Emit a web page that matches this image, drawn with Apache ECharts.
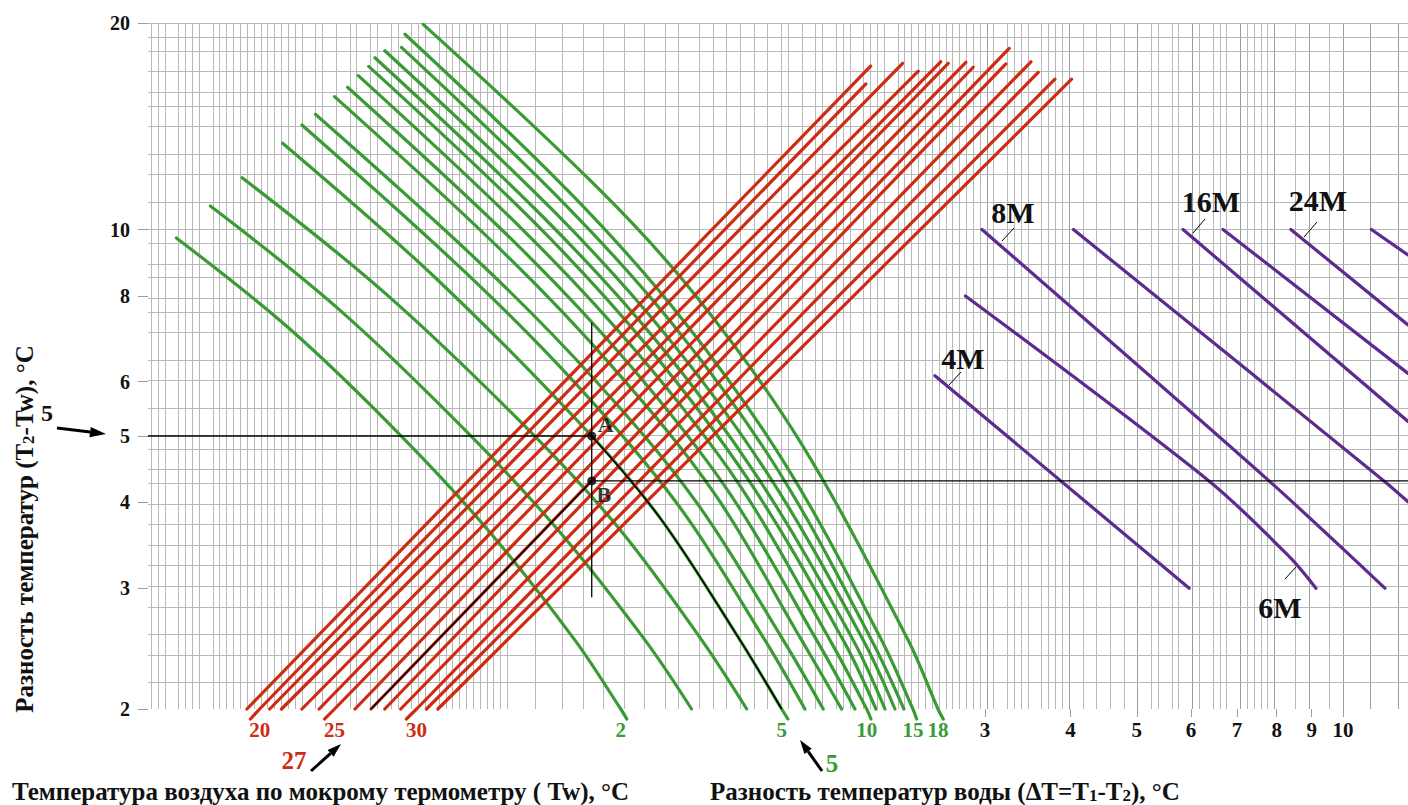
<!DOCTYPE html>
<html><head><meta charset="utf-8">
<script src="https://cdn.jsdelivr.net/npm/echarts@6.0.0/dist/echarts.min.js"></script>
<style>html,body{margin:0;padding:0;background:#fff}#c{width:1408px;height:805px}</style>
</head><body><div id="c"></div>
<script>
// ---------- axes ----------
const X_MIN = 0.18, X_MAX = 12.44, Y_MIN = 2, Y_MAX = 20;
const yTicks = [2, 3, 4, 5, 6, 8, 10, 20];
const xTicks = [3, 4, 5, 6, 7, 8, 9, 10];

// ---------- red lines: wet-bulb temperature Tw ----------
const wetBulbTw = [19, 20, 21, 22, 23, 24, 25, 26, 27, 28, 29, 30, 31, 32];
const twBaseX = [0.251, 0.262, 0.271, 0.282, 0.302, 0.320, 0.337, 0.361, 0.381, 0.399, 0.421, 0.444, 0.459, 0.477];
const twTop = [[2.043, 17.31], [2.011, 16.30], [2.275, 17.47], [2.398, 17.01], [2.585, 17.56], [2.652, 17.47], [2.814, 17.53],
               [2.884, 17.24], [3.255, 18.37], [3.219, 17.43], [3.502, 17.56], [3.589, 16.95], [3.796, 16.56], [4.015, 16.56]];
const twLabelled = [20, 25, 30];
const twTailX = [0.254, 0.326, 0.429];
const TAIL_Y = 1.934;

// ---------- green curves: water temperature difference dT ----------
const deltaT = [2, 3, 4, 5, 6, 7, 8, 9, 10, 11, 12, 13, 14, 15, 18];
const dT_2  = [[0.198, 9.72], [0.290, 7.16], [0.420, 5.02], [0.568, 3.62], [0.756, 2.52], [0.882, 2], [0.900, 1.934]];
const dT_3  = [[0.222, 10.82], [0.343, 7.63], [0.528, 5.05], [0.719, 3.62], [0.957, 2.52], [1.119, 2]];
const dT_4  = [[0.247, 11.90], [0.402, 8.03], [0.654, 5.05], [0.880, 3.65], [1.158, 2.52], [1.347, 2]];
const dT_5  = [[0.283, 13.36], [0.475, 8.47], [0.800, 5.00], [1.012, 3.77], [1.317, 2.52], [1.515, 2], [1.547, 1.934]];
const dT_6  = [[0.302, 14.20], [0.527, 8.60], [0.765, 5.90], [1.073, 3.95], [1.432, 2.52], [1.638, 2]];
const dT_7  = [[0.316, 14.72], [0.554, 8.87], [0.808, 6.04], [1.136, 4.01], [1.523, 2.52], [1.742, 2]];
const dT_8  = [[0.337, 15.62], [0.592, 9.30], [0.861, 6.28], [1.211, 4.11], [1.620, 2.52], [1.853, 2]];
const dT_9  = [[0.352, 16.12], [0.618, 9.57], [0.900, 6.42], [1.265, 4.16], [1.704, 2.52], [1.938, 2]];
const dT_10 = [[0.365, 16.76], [0.641, 9.89], [0.934, 6.60], [1.315, 4.24], [1.782, 2.52], [2.016, 2], [2.045, 1.934]];
const dT_11 = [[0.378, 17.29], [0.664, 10.17], [0.966, 6.75], [1.358, 4.30], [1.863, 2.52], [2.080, 2]];
const dT_12 = [[0.386, 17.80], [0.680, 10.42], [0.991, 6.91], [1.396, 4.36], [1.927, 2.52], [2.144, 2]];
const dT_13 = [[0.399, 18.22], [0.703, 10.65], [1.025, 7.03], [1.444, 4.41], [1.993, 2.52], [2.217, 2]];
const dT_14 = [[0.422, 18.43], [0.737, 10.79], [1.069, 7.12], [1.498, 4.45], [2.050, 2.52], [2.285, 2]];
const dT_15 = [[0.427, 19.26], [0.750, 11.21], [1.092, 7.34], [1.537, 4.53], [2.120, 2.52], [2.355, 2], [2.385, 1.934]];
const dT_18 = [[0.454, 19.91], [0.822, 11.42], [1.138, 7.98], [1.611, 4.91], [2.318, 2.52], [2.562, 2], [2.608, 1.934]];
const greenCurves = [dT_2, dT_3, dT_4, dT_5, dT_6, dT_7, dT_8, dT_9, dT_10, dT_11, dT_12, dT_13, dT_14, dT_15, dT_18];
const deltaTLabelled = [2, 5, 10, 15, 18];

// ---------- purple lines ----------
const m_4   = [[2.536, 6.12], [5.962, 3.0]];
const m_6   = [[2.81, 8.0], [6.39, 4.29], [8.36, 3.33], [9.13, 3.0]];
const m_8   = [[2.97, 10], [7.82, 4.29], [11.51, 3.0]];
const m_l4  = [[4.04, 10], [11.51, 4.29], [12.44, 4.01]];
const m_16  = [[5.84, 10], [12.44, 5.25]];
const m_l6  = [[6.68, 10], [12.44, 6.17]];
const m_24  = [[8.39, 10], [12.44, 7.26]];
const m_l8  = [[11.0, 10], [12.44, 9.18]];
const purpleLines = [m_4, m_6, m_8, m_l4, m_16, m_l6, m_24, m_l8];

// ---------- worked example ----------
const exampleTw = 27, exampleDT = 5;
const pointA = [0.80, 5.0];
const pointB = [0.80, 4.30];
const guideTopY = 7.31, guideBottomY = 2.91;

// ---------- styles ----------
const RED = '#cd2b12', GREEN = '#3a9b35', PURPLE = '#5b2c8f';
const GRIDC = '#b8b8b8', GRIDMAJ = '#9c9c9c';
const FONT = '"Liberation Serif", "DejaVu Serif", serif';
const lg = Math.log10;
const P = p => [lg(p[0]), lg(p[1])];

function gridValues(segs) {
  const out = [];
  segs.forEach(([a, b, n]) => { for (let i = 0; i < n; i++) out.push(a + (b - a) * i / n); });
  out.push(segs[segs.length - 1][1]);
  return out;
}
const xGrid = gridValues([[0.18, 0.30, 20], [0.30, 0.50, 15], [0.50, 0.60, 10], [0.60, 3.0, 40], [3, 4, 10], [4, 8, 20], [8, 10, 4], [10, 12, 2]]);
const yGrid = gridValues([[2, 3, 5], [3, 5, 8], [5, 10, 10], [10, 20, 10]]);
const isInt = v => Math.abs(v - Math.round(v)) < 1e-6;

const markData = [];
xGrid.forEach(v => markData.push({ xAxis: lg(v), lineStyle: { color: (v >= 2.99 && isInt(v)) ? GRIDMAJ : GRIDC } }));
yGrid.forEach(v => markData.push({ yAxis: lg(v), lineStyle: { color: GRIDC } }));

const series = [];
series.push({
  type: 'line', name: 'grid', data: [], silent: true, animation: false, z: 1,
  markLine: { z: 1, silent: true, animation: false, symbol: ['none', 'none'], label: { show: false },
    emphasis: { disabled: true }, lineStyle: { color: GRIDC, width: 1, type: 'solid' }, data: markData }
});

const baseLine = { type: 'line', showSymbol: false, symbol: 'none', silent: true, animation: false, clip: false };
const SMOOTH = 0.35;

greenCurves.forEach((c, i) => {
  series.push(Object.assign({}, baseLine, { name: 'ΔT=' + deltaT[i], data: c.map(P), smooth: SMOOTH, z: 3,
    lineStyle: { color: GREEN, width: 3.2, cap: 'round' } }));
});

wetBulbTw.forEach((t, i) => {
  const pts = [[twBaseX[i], 2], twTop[i]];
  const k = twLabelled.indexOf(t);
  if (k >= 0) pts.unshift([twTailX[k], TAIL_Y]);
  series.push(Object.assign({}, baseLine, { name: 'Tw=' + t, data: pts.map(P), z: 4,
    lineStyle: { color: RED, width: 3.2, cap: 'round' } }));
});

purpleLines.forEach((l, i) => {
  series.push(Object.assign({}, baseLine, { name: 'M' + i, data: l.map(P), z: 4, clip: true, smooth: 0.3,
    lineStyle: { color: PURPLE, width: 3.2, cap: 'round' } }));
});

// guide lines
const guideStyle = { color: '#000', width: 1.3 };
series.push(Object.assign({}, baseLine, { name: 'y5', data: [[X_MIN, pointA[1]], pointA].map(P), z: 5, lineStyle: guideStyle }));
series.push(Object.assign({}, baseLine, { name: 'yB', data: [pointB, [X_MAX, pointB[1]]].map(P), z: 5, lineStyle: guideStyle }));
series.push(Object.assign({}, baseLine, { name: 'vAB', data: [[pointA[0], guideTopY], [pointA[0], guideBottomY]].map(P), z: 5, lineStyle: guideStyle }));

// overlays along the example curves
const i27 = wetBulbTw.indexOf(exampleTw);
series.push(Object.assign({}, baseLine, { name: 'ov27', data: [[twBaseX[i27], 2], pointB].map(P), z: 6,
  lineStyle: { color: '#000', width: 1.6 } }));
const c5 = greenCurves[deltaT.indexOf(exampleDT)];
const c5from = c5.findIndex(p => p[0] === pointA[0] && p[1] === pointA[1]);
const c5to = c5.findIndex(p => p[1] === 2);
series.push(Object.assign({}, baseLine, { name: 'ov5', data: c5.slice(c5from, c5to + 1).map(P), smooth: SMOOTH, z: 6,
  lineStyle: { color: '#000', width: 1.6 } }));

series.push({ type: 'scatter', name: 'AB', silent: true, animation: false, z: 7, symbolSize: 9, itemStyle: { color: '#000' },
  data: [
    { value: P(pointA), label: { show: true, formatter: 'A', offset: [14, -12] } },
    { value: P(pointB), label: { show: true, formatter: 'B', offset: [12, 14] } }
  ],
  label: { position: 'inside', color: '#000', fontFamily: FONT, fontWeight: 'bold', fontSize: 22 }
});

// x-axis labels: red Tw labels, green dT labels, black axis values
const xLabelItems = [];
twLabelled.forEach(t => xLabelItems.push({ v: twBaseX[wetBulbTw.indexOf(t)], text: String(t), s: 'r' }));
deltaTLabelled.forEach(d => {
  const c = greenCurves[deltaT.indexOf(d)];
  const e = c.find(p => p[1] === 2);
  xLabelItems.push({ v: e[0], text: String(d), s: 'g' });
});
xTicks.forEach(t => xLabelItems.push({ v: t, text: String(t), s: 'k' }));
xLabelItems.sort((a, b) => a.v - b.v);

const lblBase = { fontFamily: FONT, fontWeight: 'bold', fontSize: 21 };

function arrow(x1, y1, x2, y2, w, head) {
  const a = Math.atan2(y2 - y1, x2 - x1);
  const hx = x2 - head * Math.cos(a), hy = y2 - head * Math.sin(a);
  const px = -Math.sin(a) * head * 0.32, py = Math.cos(a) * head * 0.32;
  return [
    { type: 'line', silent: true, z: 10, shape: { x1, y1, x2: hx, y2: hy }, style: { stroke: '#000', lineWidth: w } },
    { type: 'polygon', silent: true, z: 10, shape: { points: [[x2, y2], [hx + px, hy + py], [hx - px, hy - py]] }, style: { fill: '#000' } }
  ];
}
function txt(x, y, text, size, color, align, extra) {
  return Object.assign({ type: 'text', x, y, silent: true, z: 10,
    style: { text, font: 'bold ' + size + 'px ' + FONT, fill: color, align: align || 'center', verticalAlign: 'middle',
      rich: { s: { font: 'bold ' + Math.round(size * 0.68) + 'px ' + FONT, fill: color, padding: [Math.round(size * 0.35), 0, 0, 0] } } } }, extra || {});
}
function leader(x1, y1, x2, y2) {
  return { type: 'line', silent: true, z: 10, shape: { x1, y1, x2, y2 }, style: { stroke: '#000', lineWidth: 1 } };
}

const graphics = [
  txt(24, 529, 'Разность температур (T{s|2}-Tw), °C', 25, '#111', 'center', { rotation: Math.PI / 2 }),
  txt(12, 791, 'Температура воздуха по мокрому термометру ( Tw), °C', 25, '#111', 'left'),
  txt(710, 791, 'Разность температур воды (ΔT=T{s|1}-T{s|2}), °C', 25, '#111', 'left'),
  txt(47, 413, String(pointA[1]), 24, '#111'),
  ...arrow(57, 428, 106, 434, 3, 16),
  txt(294, 760, String(exampleTw), 25, RED),
  ...arrow(311, 771, 341, 744, 3, 14),
  txt(832, 763, String(exampleDT), 25, GREEN),
  ...arrow(822, 771, 800, 740, 3, 14),
  txt(963, 358, '4M', 30, '#111'), leader(949, 385, 961, 372),
  txt(1280, 607, '6M', 30, '#111'), leader(1296, 567, 1285, 579),
  txt(1013, 212, '8M', 30, '#111'), leader(1002, 241, 1014, 228),
  txt(1211, 201, '16M', 30, '#111'), leader(1193, 233, 1205, 219),
  txt(1318, 200, '24M', 30, '#111'), leader(1304, 237, 1317, 222)
];

const option = {
  animation: false,
  backgroundColor: '#fff',
  grid: { left: 148, top: 23, right: 0, bottom: 96, containLabel: false },
  xAxis: {
    type: 'value', min: lg(X_MIN), max: lg(X_MAX),
    axisLine: { show: false, onZero: false }, splitLine: { show: false },
    axisTick: { show: true, customValues: xTicks.map(lg), length: 8, lineStyle: { color: GRIDMAJ } },
    axisLabel: {
      customValues: xLabelItems.map(i => lg(i.v)), margin: 10, color: '#111',
      fontFamily: FONT, fontWeight: 'bold', fontSize: 21,
      formatter: val => {
        let best = xLabelItems[0], bd = 1e9;
        xLabelItems.forEach(it => { const d = Math.abs(lg(it.v) - val); if (d < bd) { bd = d; best = it; } });
        return '{' + best.s + '|' + best.text + '}';
      },
      rich: { r: Object.assign({ color: RED }, lblBase), g: Object.assign({ color: GREEN }, lblBase), k: Object.assign({ color: '#111' }, lblBase) }
    }
  },
  yAxis: {
    type: 'value', min: lg(Y_MIN), max: lg(Y_MAX),
    axisLine: { show: false, onZero: false }, splitLine: { show: false },
    axisTick: { show: true, customValues: yTicks.map(lg), length: 10, lineStyle: { color: GRIDMAJ } },
    axisLabel: {
      customValues: yTicks.map(lg), margin: 18, color: '#111',
      fontFamily: FONT, fontWeight: 'bold', fontSize: 20,
      formatter: v => String(Math.round(Math.pow(10, v)))
    }
  },
  series,
  graphic: graphics
};

const chart = echarts.init(document.getElementById('c'), null, { renderer: 'svg', width: 1408, height: 805 });
chart.setOption(option);
</script>
</body></html>
